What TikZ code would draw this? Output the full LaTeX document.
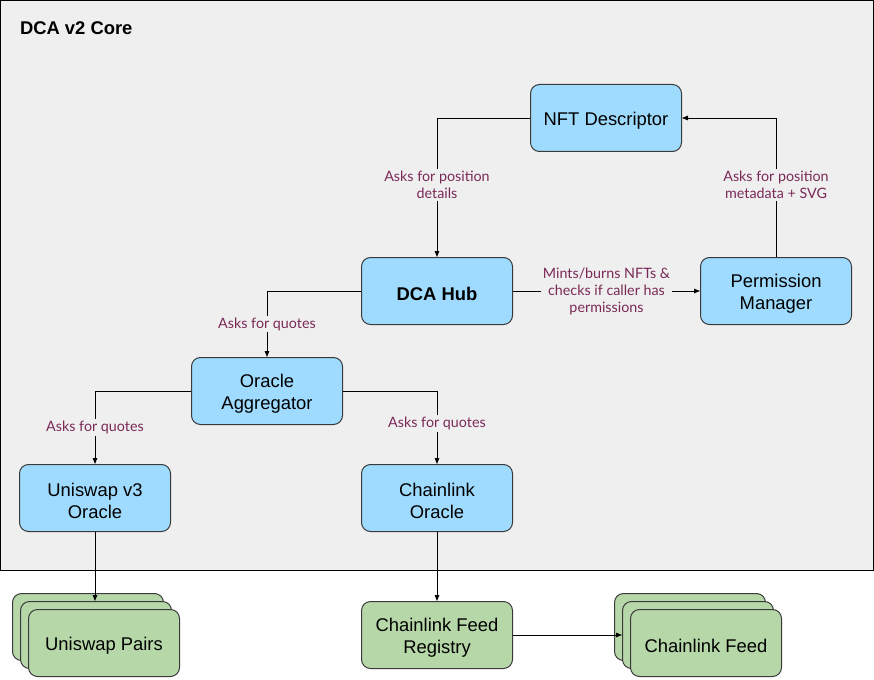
\documentclass[tikz,border=0pt]{standalone}
\usepackage{fontspec}
\setmainfont{Liberation Sans}
\newfontfamily\labelfont{Lato}
\usetikzlibrary{arrows.meta}
\definecolor{bgc}{HTML}{EFEFEF}
\definecolor{bluec}{HTML}{9FDBFE}
\definecolor{greenc}{HTML}{B6D7A8}
\definecolor{linec}{HTML}{3A3A3A}
\definecolor{lblc}{HTML}{7A2957}
\tikzset{
  box/.style={draw=linec, line width=1pt, rounded corners=9pt, minimum width=151pt,
    minimum height=67pt, align=center, inner sep=0pt, anchor=north west,
    text height=18.4pt, font=\fontsize{18.4}{22}\selectfont},
  twoline/.style={text height=40.4pt},
  bluebox/.style={box, fill=bluec},
  greenbox/.style={box, fill=greenc},
  lbl/.style={fill=bgc, text=lblc, align=center, inner sep=2pt,
    font=\labelfont\fontsize{14.3}{17}\selectfont},
  arr/.style={-{Triangle[length=6pt,width=4.5pt]}, line width=0.9pt, black},
}
\begin{document}
\begin{tikzpicture}[x=1pt,y=-1pt]
\useasboundingbox (0,0) rectangle (874,679);
\draw[fill=bgc, line width=1pt] (0.5,0.5) rectangle (873,570);
\node[anchor=west, font=\bfseries\fontsize{18.4}{22}\selectfont] (title) at (16.5,28) {DCA v2 Core};

\node[bluebox] (nft) at (530,84) {NFT Descriptor};
\node[bluebox] (hub) at (361,257) {\bfseries DCA Hub};
\node[bluebox, twoline] (perm) at (700,257) {Permission\\Manager};
\node[bluebox, twoline] (agg) at (191,357) {Oracle\\Aggregator};
\node[bluebox, twoline] (uni) at (19,464) {Uniswap v3\\Oracle};
\node[bluebox, twoline] (clo) at (361,464) {Chainlink\\Oracle};

\node[greenbox] (up1) at (12,593) {};
\node[greenbox] (up2) at (20,601) {};
\node[greenbox] (up3) at (28,609) {Uniswap Pairs};
\node[greenbox, twoline] (reg) at (361,601) {Chainlink Feed\\Registry};
\node[greenbox] (cf1) at (614,593) {};
\node[greenbox] (cf2) at (622,601) {};
\node[greenbox] (cf3) at (630,609) {Chainlink Feed};

\draw[arr] (nft.west) -| node[lbl, pos=0.74] {Asks for position\\details} (hub.north);
\draw[arr] (perm.north) |- node[lbl, pos=0.26] {Asks for position\\metadata + SVG} (nft.east);
\draw[arr] (hub.east) -- node[lbl, pos=0.5] {Mints/burns NFTs \&\\checks if caller has\\permissions} (perm.west);
\draw[arr] (hub.west) -| node[lbl, pos=0.75] {Asks for quotes} (agg.north);
\draw[arr] (agg.west) -| node[lbl, pos=0.75] {Asks for quotes} (uni.north);
\draw[arr] (agg.east) -| node[lbl, pos=0.72] {Asks for quotes} (clo.north);
\draw[arr] (uni.south) -- (uni.south |- up2.north);
\draw[arr] (clo.south) -- (reg.north);
\draw[arr] (reg.east) -- (reg.east -| cf2.west);
\end{tikzpicture}
\end{document}
